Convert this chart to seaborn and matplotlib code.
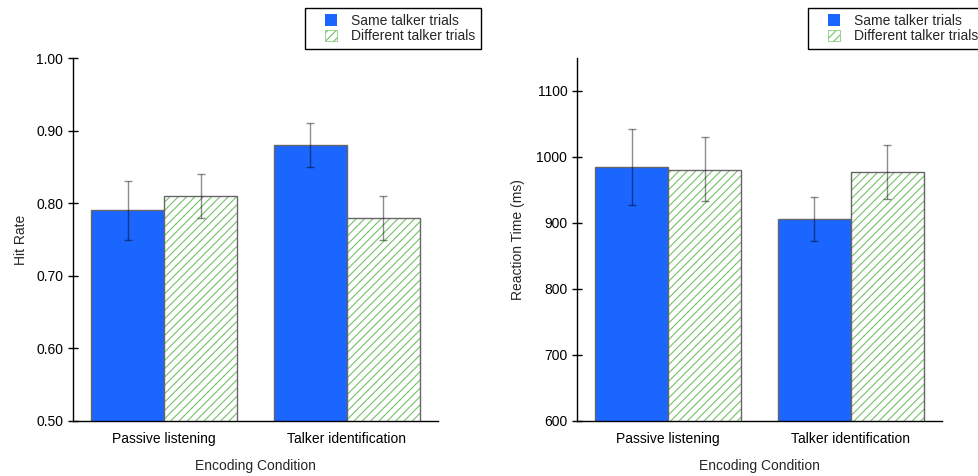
import matplotlib
matplotlib.use('Agg')
import matplotlib.pyplot as plt
from matplotlib.patches import Patch, Rectangle
from matplotlib.legend_handler import HandlerPatch
import seaborn as sns
import pandas as pd
import numpy as np

conditions = ['Passive listening', 'Talker identification']
trial_types = ['Same talker trials', 'Different talker trials']

# hit rate (mean, lower, upper)
hit_same = [0.79, 0.88]
hit_same_lo = [0.75, 0.85]
hit_same_hi = [0.83, 0.91]
hit_diff = [0.81, 0.78]
hit_diff_lo = [0.78, 0.75]
hit_diff_hi = [0.84, 0.81]

# reaction time in ms (mean, lower, upper)
rt_same = [985, 906]
rt_same_lo = [927, 873]
rt_same_hi = [1043, 940]
rt_diff = [981, 977]
rt_diff_lo = [933, 936]
rt_diff_hi = [1030, 1018]

blue = '#1a66ff'
green = '#74c067'
edge = '#666666'

sns.set_theme(style='ticks')
plt.rcParams['font.family'] = ['Liberation Sans', 'DejaVu Sans']
plt.rcParams['font.size'] = 10
plt.rcParams['hatch.linewidth'] = 0.8


def make_df(same, diff):
    return pd.DataFrame({
        'condition': conditions * 2,
        'trial': [trial_types[0]] * 2 + [trial_types[1]] * 2,
        'value': list(same) + list(diff),
    })


def draw(ax, same, same_lo, same_hi, diff, diff_lo, diff_hi):
    df = make_df(same, diff)
    sns.barplot(data=df, x='condition', y='value', hue='trial',
                order=conditions, hue_order=trial_types,
                palette=[blue, 'white'], errorbar=None, width=0.8,
                saturation=1, edgecolor=edge, linewidth=1, legend=False, ax=ax)
    bars = ax.patches
    lo = list(same_lo) + list(diff_lo)
    hi = list(same_hi) + list(diff_hi)
    vals = list(same) + list(diff)
    for i, p in enumerate(bars[:4]):
        if i >= 2:
            # hatch in green, outline drawn again in gray
            p.set_edgecolor(green)
            p.set_linewidth(0)
            p.set_hatch('////')
            ax.add_patch(Rectangle(p.get_xy(), p.get_width(), p.get_height(),
                                   fill=False, edgecolor=edge, linewidth=1, zorder=p.get_zorder()))
        xc = p.get_x() + p.get_width() / 2
        ax.errorbar(xc, vals[i], yerr=[[vals[i] - lo[i]], [hi[i] - vals[i]]],
                    fmt='none', ecolor='black', alpha=0.45, elinewidth=1,
                    capsize=3, capthick=1, zorder=5)
    sns.despine(ax=ax)
    ax.set_xlim(-0.5, 1.5)
    ax.tick_params(axis='both', direction='inout', length=7, width=1, colors='black', labelsize=10)
    ax.tick_params(axis='x', length=0, pad=8)
    for s in ['left', 'bottom']:
        ax.spines[s].set_linewidth(1)
        ax.spines[s].set_color('black')
    ax.set_xlabel('Encoding Condition', fontsize=10, labelpad=9)


def square_handle(legend, orig_handle, xdescent, ydescent, width, height, fontsize):
    return Rectangle((-xdescent + width - height, -ydescent), height, height)


fig = plt.figure(figsize=(9.79, 4.76), dpi=100)
ax1 = fig.add_axes([73 / 979, 1 - 421 / 476, 365 / 979, 363 / 476])
ax2 = fig.add_axes([577 / 979, 1 - 421 / 476, 365 / 979, 363 / 476])

draw(ax1, hit_same, hit_same_lo, hit_same_hi, hit_diff, hit_diff_lo, hit_diff_hi)
ax1.set_ylim(0.5, 1.0)
ax1.set_yticks(np.arange(0.5, 1.001, 0.1))
ax1.yaxis.set_major_formatter(matplotlib.ticker.FormatStrFormatter('%.2f'))
ax1.set_ylabel('Hit Rate', fontsize=10, labelpad=6)

draw(ax2, rt_same, rt_same_lo, rt_same_hi, rt_diff, rt_diff_lo, rt_diff_hi)
ax2.set_ylim(600, 1150)
ax2.set_yticks(np.arange(600, 1101, 100))
ax2.set_ylabel('Reaction Time (ms)', fontsize=10, labelpad=8)

handles = [Patch(facecolor=blue, edgecolor='none'),
           Patch(facecolor='white', edgecolor=green, hatch='////', linewidth=0.5)]
hmap = {h: HandlerPatch(patch_func=square_handle) for h in handles}
for x0 in [305 / 979, 808 / 979]:
    leg = fig.legend(handles, trial_types, loc='upper left', handler_map=hmap,
                     bbox_to_anchor=(x0, 1 - 8 / 476), fontsize=10,
                     frameon=True, fancybox=False, handlelength=1.87, handleheight=0.92,
                     handletextpad=1.0, borderpad=0.42, labelspacing=0.1,
                     borderaxespad=0, edgecolor='black')
    leg.get_frame().set_linewidth(1)
    leg.get_frame().set_alpha(1)

fig.savefig('out.png', dpi=100)
